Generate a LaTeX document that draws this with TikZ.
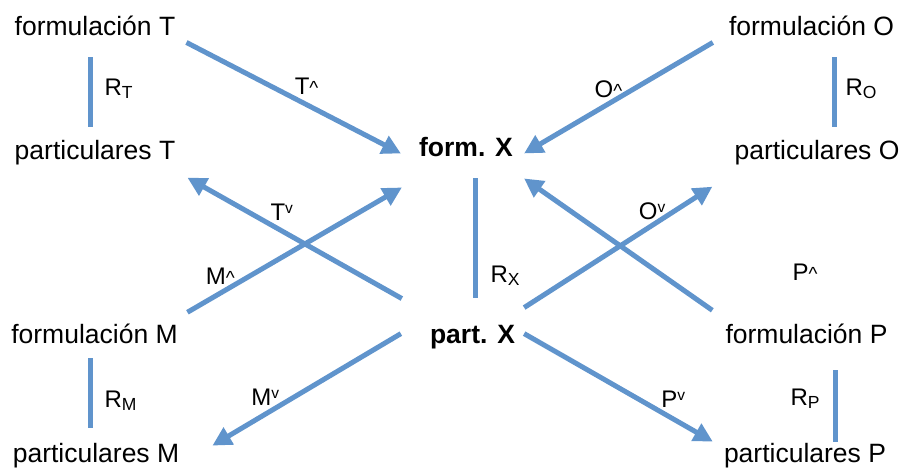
\documentclass[tikz,border=0pt]{standalone}
\usepackage{fontspec}
\setmainfont{Liberation Sans}
\usepackage{xcolor}
\usetikzlibrary{arrows.meta}
\definecolor{azul}{RGB}{96,148,204}
\newcommand{\sube}{{\fontsize{19}{19}\selectfont\textasciicircum}}
\newcommand{\baja}{\raisebox{7pt}{\fontsize{15.5}{15.5}\selectfont v}}
\newcommand{\idx}[1]{\raisebox{-3pt}{\fontsize{17.5}{17.5}\selectfont #1}}
\begin{document}
\begin{tikzpicture}[x=1pt,y=-1pt,>={Triangle[length=19pt,width=19pt]}]
\tikzstyle{texto}=[inner sep=0pt,anchor=base,font=\fontsize{26.5}{30}\selectfont]
\tikzstyle{negrita}=[texto,font=\fontsize{26.5}{30}\selectfont\bfseries]
\tikzstyle{etiq}=[inner sep=0pt,font=\fontsize{24}{27}\selectfont]
\tikzstyle{flecha}=[draw=azul,line width=5pt,->]
\tikzstyle{rel}=[draw=azul,line width=5pt]
\useasboundingbox (0,0) rectangle (902,474);
% lado izquierdo
\node[texto] (fT) at (95,35) {formulación T};
\node[texto] (pT) at (95,159) {particulares T};
\node[texto] (fM) at (94.5,343) {formulación M};
\node[texto] (pM) at (96,462) {particulares M};
% centro
\node[negrita] (fX) at (466,156) {form. X};
\node[negrita] (pX) at (472.5,343) {part. X};
% lado derecho
\node[texto] (fO) at (811.5,35) {formulación O};
\node[texto] (pO) at (817,159) {particulares O};
\node[texto] (fP) at (806.5,343) {formulación P};
\node[texto] (pP) at (805,462) {particulares P};
% relaciones verticales
\draw[rel,shorten <=22pt,shorten >=13pt] ([xshift=-5pt]fT.south) -- ([xshift=-5pt]fT.south |- pT.north)
  node[etiq,pos=0.514,right=12pt] {R\idx{T}};
\draw[rel,shorten <=22pt,shorten >=13pt] ([xshift=22.5pt]fO.south) -- ([xshift=22.5pt]fO.south |- pO.north)
  node[etiq,pos=0.514,right=9pt] {R\idx{O}};
\draw[rel,shorten <=22pt,shorten >=27pt] ([xshift=9pt]fX.south) -- ([xshift=9pt]fX.south |- pX.north)
  node[etiq,pos=0.708,right=13pt] {R\idx{X}};
\draw[rel,shorten <=15pt,shorten >=15pt] ([xshift=-4.5pt]fM.south) -- ([xshift=-4.5pt]fM.south |- pM.north)
  node[etiq,pos=0.58,right=12pt] {R\idx{M}};
\draw[rel,shorten <=27pt,shorten >=1pt] ([xshift=28.5pt]fP.south) -- ([xshift=28.5pt]fP.south |- pP.north)
  node[etiq,pos=0.56,left=13pt] {R\idx{P}};
% flechas hacia form. X
\draw[flecha] ([shift={(11,7)}]fT.south east) -- ([shift={(-18,-3)}]fX.south west)
  node[etiq,pos=0.56,yshift=18pt] {T\sube};
\draw[flecha] ([shift={(-16,7)}]fO.south west) -- ([shift={(11,-3)}]fX.south east)
  node[etiq,pos=0.553,yshift=15pt] {O\sube};
\draw[flecha] ([shift={(9.5,-11)}]fM.north east) -- ([shift={(-17,31)}]fX.south west)
  node[etiq,pos=0.153,yshift=17pt] {M\sube};
\draw[flecha] ([shift={(-13,-13)}]fP.north west) -- ([shift={(11,22)}]fX.south east);
\node[etiq] (lP) at (805,272) {P\sube};
% flechas desde part. X
\draw[flecha] ([shift={(-28,-26)}]pX.north west) -- ([shift={(12,13)}]pT.south east)
  node[etiq,pos=0.56,yshift=19pt] {T\baja};
\draw[flecha] ([shift={(9,-17)}]pX.north east) -- ([shift={(-22,22)}]pO.south west)
  node[etiq,pos=0.68,yshift=14.5pt] {O\baja};
\draw[flecha] ([shift={(-29,-3)}]pX.west) -- ([shift={(33,3)}]pM.north east)
  node[etiq,pos=0.72,yshift=17pt] {M\baja};
\draw[flecha] ([shift={(9,-3)}]pX.east) -- ([shift={(-11,-1)}]pP.north west)
  node[etiq,pos=0.79,yshift=20pt] {P\baja};
\end{tikzpicture}
\end{document}
